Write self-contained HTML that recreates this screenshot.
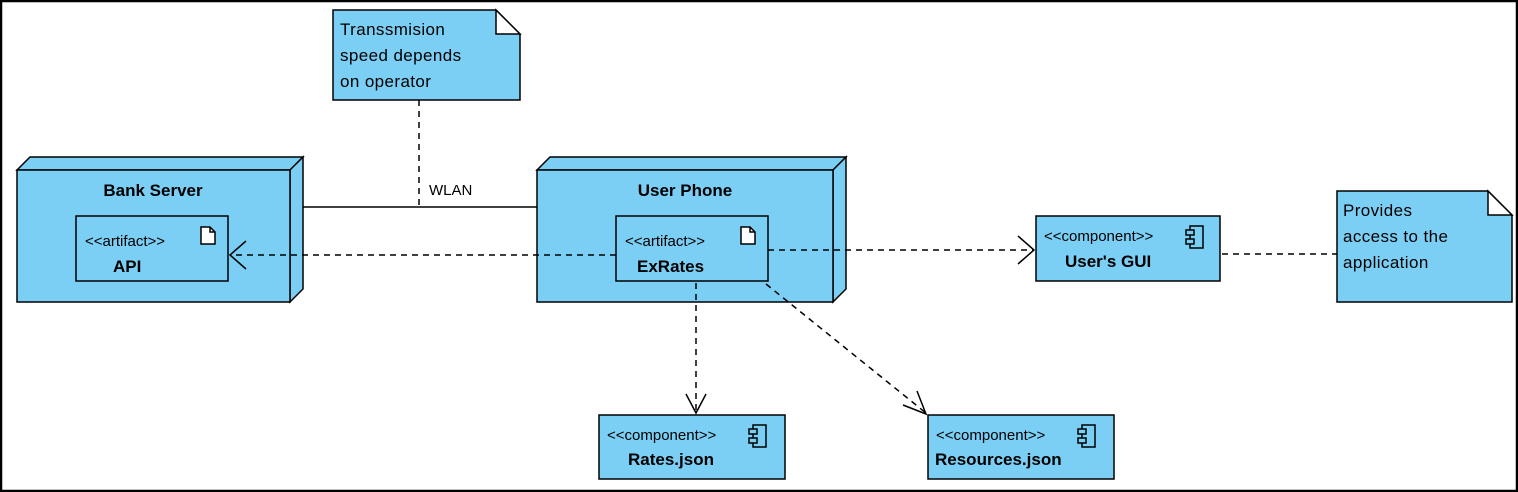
<!DOCTYPE html>
<html><head><meta charset="utf-8"><style>
html,body{margin:0;padding:0;background:#fff}
svg{display:block}
text{font-family:"Liberation Sans",Arial,sans-serif;fill:#000}
.b{font-weight:bold;font-size:17px}
.s{font-size:15px}
.w{font-size:15px}
.n{font-size:17px;letter-spacing:0.4px}
</style></head><body>
<svg width="1518" height="492" viewBox="0 0 1518 492" xmlns="http://www.w3.org/2000/svg">
<rect x="1" y="1" width="1516" height="490" fill="#fff" stroke="#000" stroke-width="2.5"/>
<g stroke="#000" stroke-width="1.5" fill="#7ccff4">
<polygon points="17,170 30,157 303,157 290,170"/>
<polygon points="290,170 303,157 303,289 290,302"/>
<rect x="17" y="170" width="273" height="132"/>
<polygon points="537,170 550,157 846,157 833,170"/>
<polygon points="833,170 846,157 846,289 833,302"/>
<rect x="537" y="170" width="296" height="132"/>
<rect x="76" y="216" width="152" height="65"/>
<rect x="616" y="216" width="152" height="65"/>
<rect x="1036" y="216" width="184" height="65"/>
<rect x="599" y="415" width="186" height="64"/>
<rect x="928" y="415" width="186" height="64"/>
<polygon points="333,10 496,10 520,34 520,100 333,100"/>
<polygon points="1337,191 1488,191 1512,215 1512,302 1337,302"/>
</g>
<g stroke="#000" stroke-width="1.5" fill="#fff">
<polygon points="496,10 520,34 496,34"/>
<polygon points="1488,191 1512,215 1488,215"/>
<path d="M201,227 h9 l5,5 v12 h-14 z"/>
<path d="M741,227 h9 l5,5 v12 h-14 z"/>
</g>
<g stroke="#000" stroke-width="1.5" fill="none">
<path d="M210,227 v5 h5"/><path d="M750,227 v5 h5"/>
<g id="ci"><rect x="1190" y="226" width="13" height="22"/><rect x="1186" y="230" width="8" height="5" fill="#7ccff4"/><rect x="1186" y="239" width="8" height="5" fill="#7ccff4"/></g>
<use href="#ci" x="-437" y="199"/>
<use href="#ci" x="-108" y="199"/>
<line x1="303" y1="207" x2="537" y2="207"/>
<g stroke-dasharray="6,5">
<line x1="419" y1="100" x2="419" y2="207"/>
<line x1="616" y1="255" x2="230" y2="255"/>
<line x1="768" y1="250" x2="1034" y2="250"/>
<line x1="1222" y1="254" x2="1337" y2="254"/>
<line x1="696" y1="283" x2="696" y2="413"/>
<line x1="766" y1="284" x2="926" y2="413"/>
</g>
<polyline points="246,241 230,255 246,269"/>
<polyline points="1018,236 1034,250 1018,264"/>
<polyline points="686,394 696,413 706,394"/>
<polyline points="903,405 926,414 917,391"/>
</g>
<text x="429" y="195" class="w">WLAN</text>
<text x="153" y="196" class="b" text-anchor="middle">Bank Server</text>
<text x="685" y="196" class="b" text-anchor="middle">User Phone</text>
<text x="85" y="246" class="s">&lt;&lt;artifact&gt;&gt;</text>
<text x="113" y="272" class="b">API</text>
<text x="625" y="246" class="s">&lt;&lt;artifact&gt;&gt;</text>
<text x="637" y="272" class="b">ExRates</text>
<text x="1044" y="241" class="s">&lt;&lt;component&gt;&gt;</text>
<text x="1065" y="267" class="b">User's GUI</text>
<text x="607" y="440" class="s">&lt;&lt;component&gt;&gt;</text>
<text x="628" y="465" class="b">Rates.json</text>
<text x="936" y="440" class="s">&lt;&lt;component&gt;&gt;</text>
<text x="935" y="465" class="b">Resources.json</text>
<text x="340" y="35" class="n">Transsmision</text>
<text x="340" y="61" class="n">speed depends</text>
<text x="340" y="87" class="n">on operator</text>
<text x="1343" y="216" class="n">Provides</text>
<text x="1343" y="242" class="n">access to the</text>
<text x="1343" y="268" class="n">application</text>
</svg>
</body></html>
